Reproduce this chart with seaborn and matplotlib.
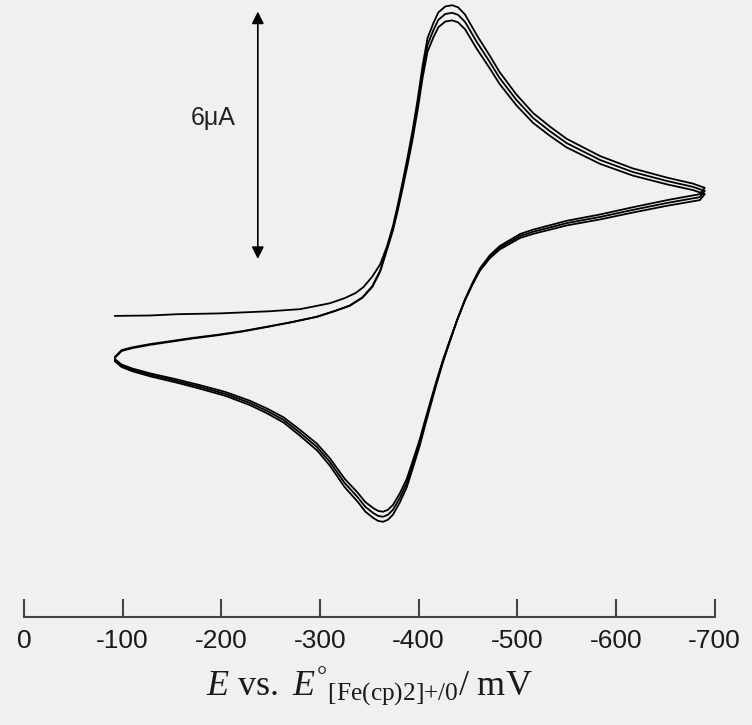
import numpy as np
import pandas as pd
import matplotlib
matplotlib.use("Agg")
import matplotlib.pyplot as plt
import seaborn as sns

# --- data (E in mV, i in uA) ---
# first sweep from the rest potential until it joins the forward branch
start_E = [-92, -128, -155, -199, -249, -280, -293, -310, -325, -336, -344, -353, -361]
start_i = [0.00, 0.01, 0.04, 0.06, 0.11, 0.16, 0.22, 0.30, 0.42, 0.54, 0.68, 0.93, 1.22]

# forward (cathodic) branch, left turn -> switching potential
fwd_E = [-92, -99, -110, -128, -145, -170, -196, -221, -246, -272, -297, -315, -330,
         -343, -353, -361, -368, -374, -379, -384, -389, -394, -399, -404, -409,
         -415, -420, -427, -434, -440, -447, -459, -472, -482, -499, -516, -533,
         -550, -584, -617, -652, -678, -690]
fwd_i = [-1.02, -0.85, -0.78, -0.70, -0.64, -0.55, -0.47, -0.38, -0.27, -0.15, -0.02, 0.12, 0.25,
         0.45, 0.72, 1.10, 1.65, 2.13, 2.64, 3.20, 3.78, 4.41, 5.12, 5.92, 6.57,
         6.93, 7.18, 7.32, 7.35, 7.30, 7.13, 6.64, 6.16, 5.77, 5.24, 4.80, 4.48,
         4.19, 3.78, 3.49, 3.27, 3.13, 3.03]

# reverse (anodic) branch, switching potential -> left turn
rev_E = [-690, -685, -652, -617, -584, -550, -516, -503, -482, -472, -462, -455, -447,
         -439, -432, -425, -418, -411, -406, -401, -394, -388, -381, -374, -369,
         -364, -359, -354, -346, -338, -325, -310, -297, -280, -263, -246, -229,
         -204, -178, -155, -128, -110, -99, -92]
rev_i = [3.03, 2.88, 2.74, 2.57, 2.40, 2.25, 2.04, 1.94, 1.65, 1.43, 1.12, 0.80, 0.39,
         -0.10, -0.58, -1.07, -1.62, -2.21, -2.64, -3.08, -3.61, -4.05, -4.41, -4.70, -4.82,
         -4.87, -4.85, -4.78, -4.63, -4.39, -4.05, -3.54, -3.18, -2.84, -2.52, -2.30, -2.11,
         -1.89, -1.72, -1.58, -1.43, -1.31, -1.21, -1.07]

# slight drift of the current between the three recorded cycles
cycle_scale = [1.025, 1.0, 0.975]

tick_values = [0, -100, -200, -300, -400, -500, -600, -700]
tick_labels = ["0", "-100", "-200", "-300", "-400", "-500", "-600", "-700"]

# --- build long table, one row per recorded point ---
rows = []
for c, s in enumerate(cycle_scale):
    if c == 0:
        E = start_E + fwd_E[16:] + rev_E
        I = start_i + fwd_i[16:] + rev_i
    else:
        E = fwd_E + rev_E
        I = fwd_i + rev_i
    for k, (e, i) in enumerate(zip(E, I)):
        rows.append({"E": e, "i": i * s, "cycle": c, "step": k})
df = pd.DataFrame(rows)

sns.set_theme(style="white")
plt.rcParams["font.family"] = ["Liberation Sans", "DejaVu Sans"]
plt.rcParams["mathtext.fontset"] = "custom"
plt.rcParams["mathtext.rm"] = "Liberation Serif"
plt.rcParams["mathtext.it"] = "Liberation Serif:italic"

bg = "#f0f0f0"
fig = plt.figure(figsize=(7.52, 7.25), dpi=100, facecolor=bg)
ax = fig.add_axes([0.0319, 0.149, 0.9184, 0.851])
ax.set_facecolor(bg)

sns.lineplot(data=df, x="E", y="i", units="cycle", estimator=None, sort=False,
             color="black", linewidth=1.3, ax=ax)

ax.set_xlim(0, -700)
ax.set_ylim(-7.30, 7.66)

# scale bar instead of a y axis
ax.annotate("", xy=(-237, 7.38), xytext=(-237, 1.38),
            arrowprops=dict(arrowstyle="<|-|>", color="black", lw=1.2,
                            mutation_scale=18, shrinkA=0, shrinkB=0))
ax.text(-192, 4.8, "6\u03bcA", ha="center", va="center", fontsize=18, color="#222222")

for side in ["top", "left", "right"]:
    ax.spines[side].set_visible(False)
ax.spines["bottom"].set_color("#444444")
ax.spines["bottom"].set_linewidth(1.5)
ax.set_yticks([])
ax.set_xticks(tick_values)
ax.set_xticklabels(tick_labels)
ax.tick_params(axis="x", bottom=True, direction="in", length=13, width=1.5,
               color="#444444", pad=9, labelsize=19, labelcolor="#1a1a1a")
ax.set_ylabel("")
ax.set_xlabel(r"$\mathit{E}\ \mathrm{vs.}\ \mathit{E}^{\mathrm{°}}{}_{\text{[Fe(cp)2]+/0}}\mathrm{/\ mV}$",
              fontsize=26, labelpad=8, color="#1a1a1a")

fig.savefig("out.png", dpi=100, facecolor=bg)
